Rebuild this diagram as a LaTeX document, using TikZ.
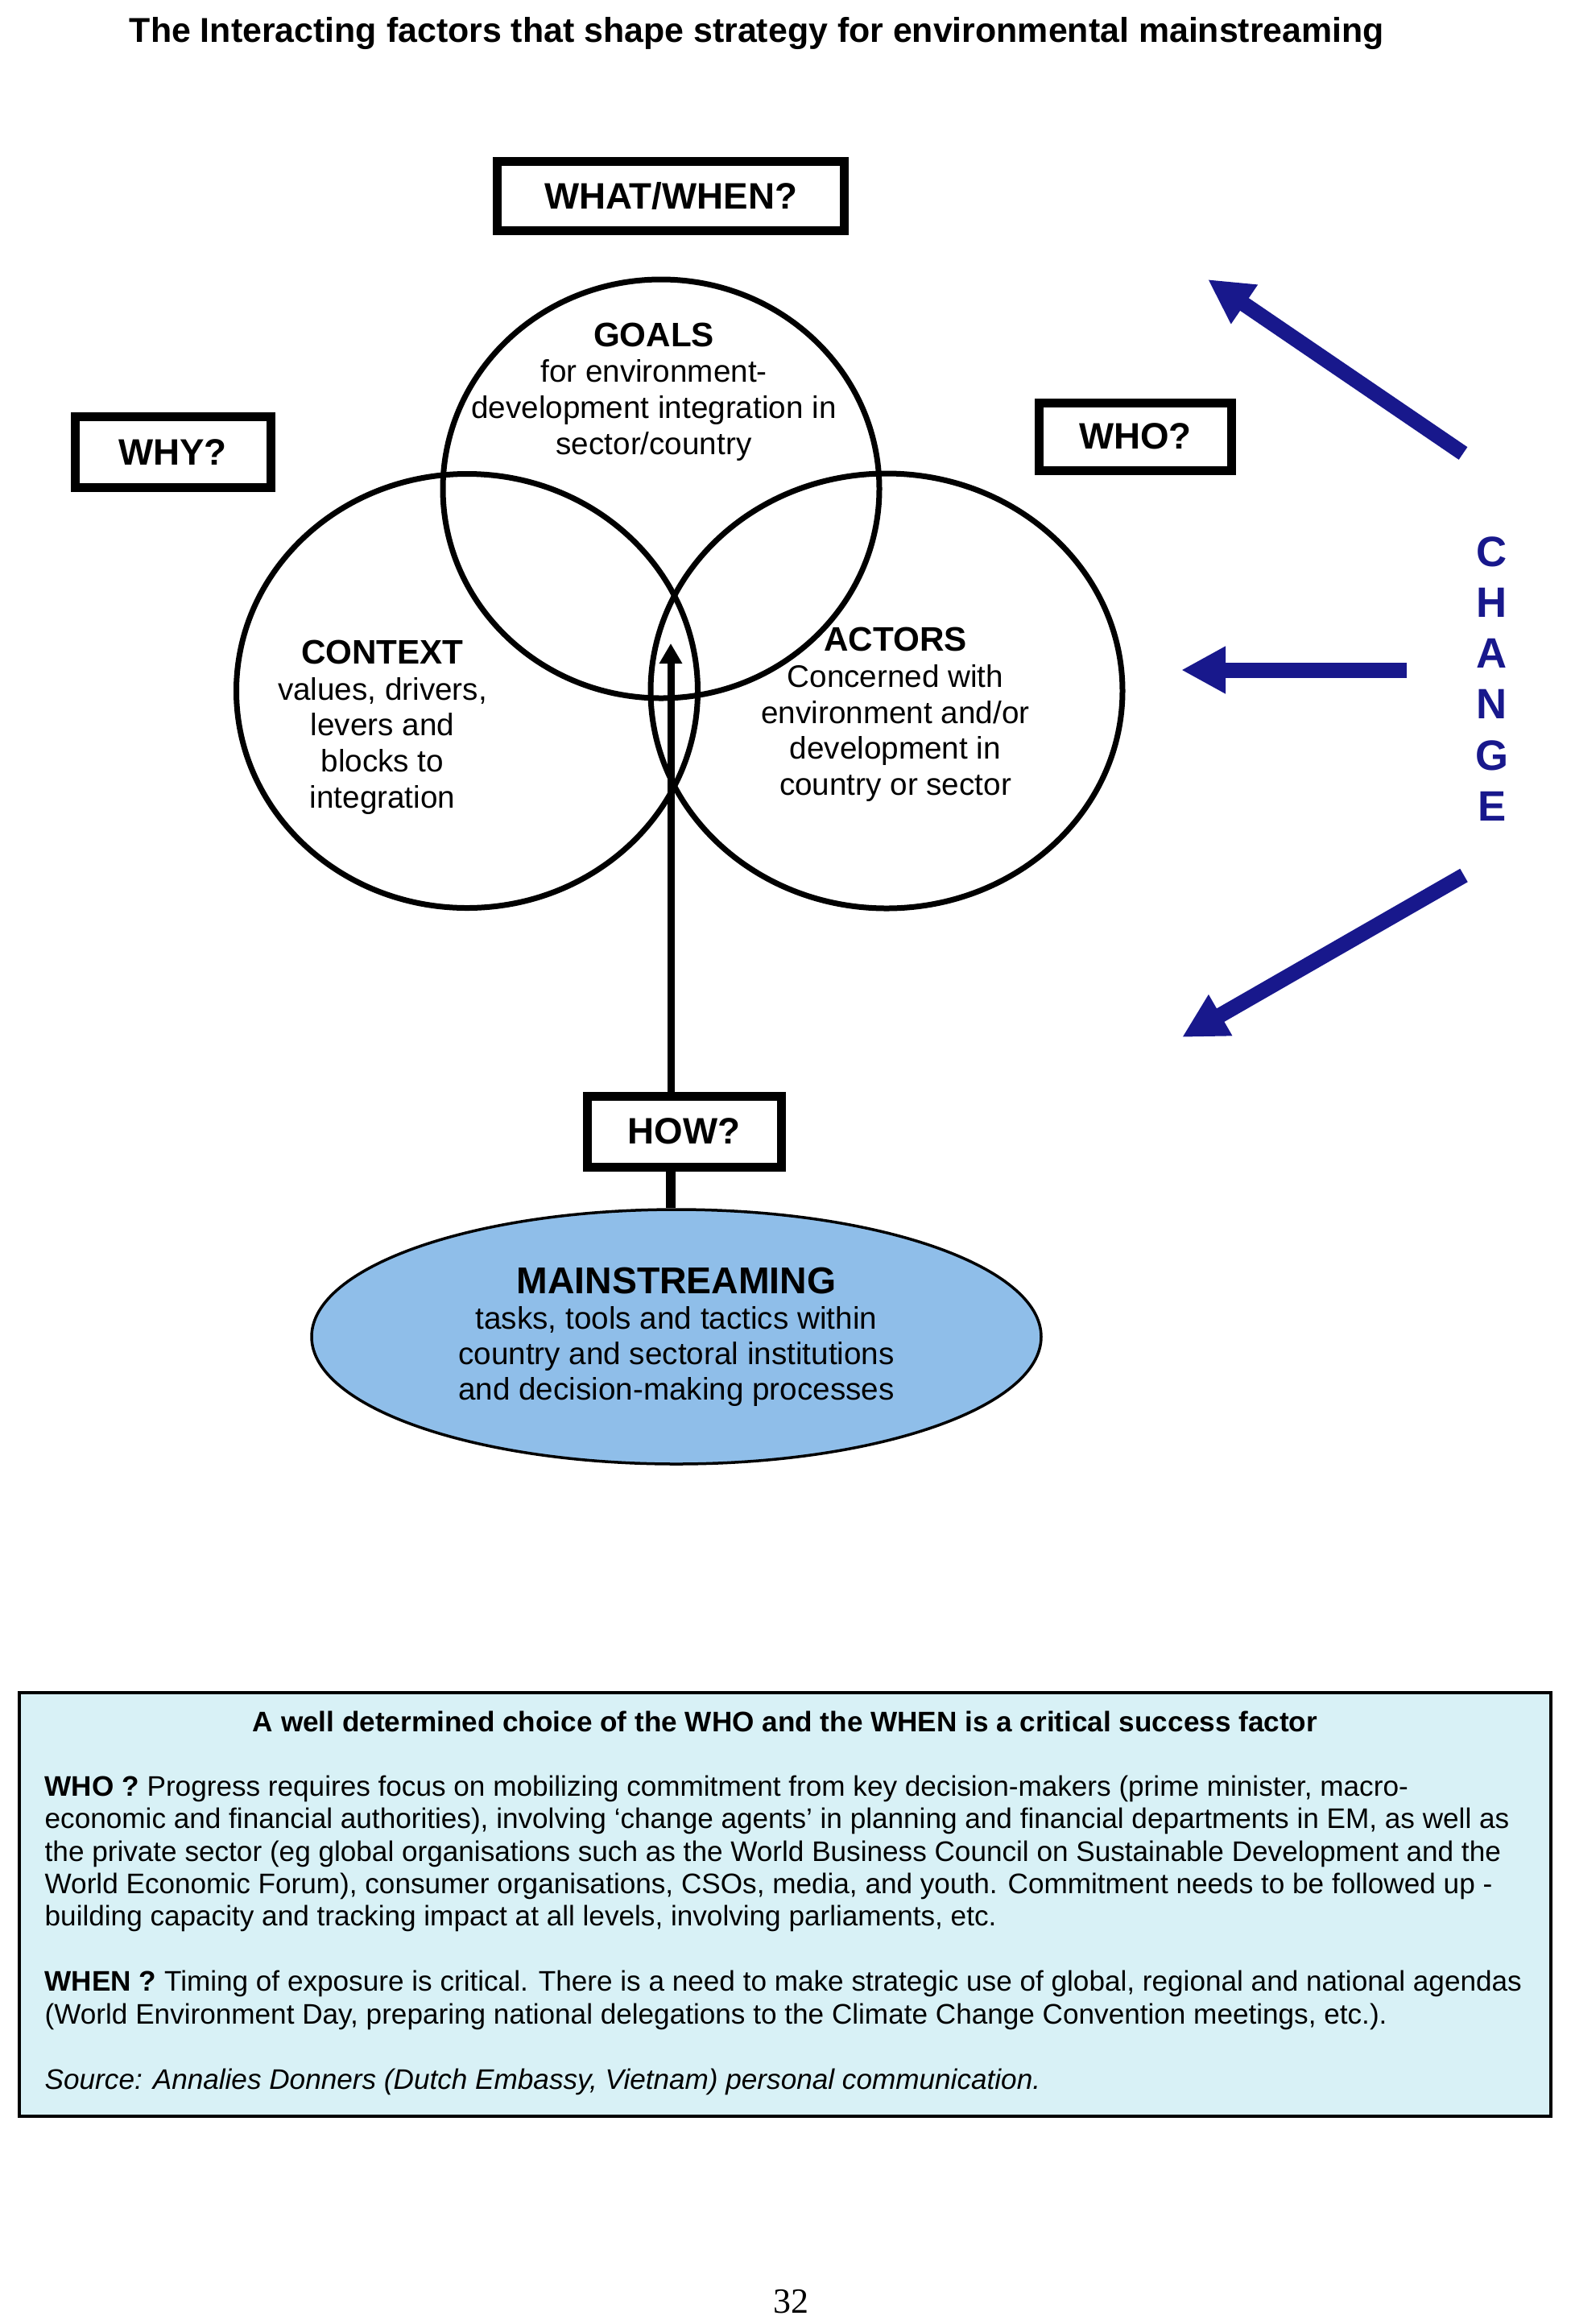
\documentclass[tikz,border=0pt]{standalone}
\usepackage{fontspec}
\setmainfont{Liberation Sans}
\newfontfamily\pagenumfont{Liberation Serif}
\usepackage{tikz}
\usetikzlibrary{positioning}
\usetikzlibrary{shapes.geometric,arrows.meta}
\definecolor{mainBlue}{RGB}{143,190,233}
\definecolor{noteCyan}{RGB}{216,241,246}
\definecolor{changeBlue}{RGB}{24,24,140}
\tikzset{
    question/.style={draw, line width=1.1mm, inner sep=0pt,
        font=\fontsize{13}{13}\selectfont\bfseries},
    venn/.style={ellipse, draw, line width=0.7mm, inner sep=0pt},
    vennText/.style={align=center, anchor=base, inner sep=0pt,
        font=\fontsize{11}{12.7}\selectfont},
    changeArrow/.style={changeBlue, line width=1.9mm,
        -{Triangle[length=5.5mm,width=5.5mm]}},
    changeLetter/.style={anchor=base, inner sep=0pt, text=changeBlue,
        font=\fontsize{15}{15}\selectfont\bfseries},
    noteBox/.style={draw, fill=noteCyan, line width=0.35mm, inner sep=0pt}
}

\begin{document}
\begin{tikzpicture}
	\useasboundingbox (0,0) rectangle (19.50,-28.86);
	\node[anchor=base, font=\fontsize{12.2}{14}\selectfont\bfseries] (title) at (9.40,-0.52)
		{The Interacting factors that shape strategy for environmental mainstreaming};
	% the three circles (text nodes sit on their last baseline)
	\node[venn, minimum width=5.42cm, minimum height=5.20cm] (goals) at (8.21,-6.07) {};
	\node[venn, minimum width=5.73cm, minimum height=5.39cm] (context) at (5.80,-8.58) {};
	\node[venn, minimum width=5.86cm, minimum height=5.40cm] (actors) at (11.01,-8.58) {};
	\node[vennText] (goalsText) at (8.12,-5.64)
		{{\fontsize{12}{12.7}\selectfont\bfseries GOALS}\\for environment-\\development integration in\\sector/country};
	\node[vennText] (contextText) at (4.75,-10.03)
		{{\fontsize{12}{12.7}\selectfont\bfseries CONTEXT}\\values, drivers,\\levers and\\blocks to\\integration};
	\node[vennText] (actorsText) at (11.12,-9.875)
		{{\fontsize{12}{12.7}\selectfont\bfseries ACTORS}\\Concerned with\\environment and/or\\development in\\country or sector};
	% question boxes
	\node[question, minimum width=4.31cm, minimum height=0.86cm] (whatWhen) at (8.33,-2.435) {WHAT/WHEN?};
	\node[question, minimum width=2.43cm, minimum height=0.88cm] (why) at (2.145,-5.615) {WHY?};
	\node[question, minimum width=2.39cm, minimum height=0.84cm] (who) at (14.10,-5.42) {WHO?};
	\node[question, minimum width=2.41cm, minimum height=0.88cm] (how) at (8.495,-14.05) {HOW?};
	% mainstreaming ellipse
	\node[ellipse, draw, fill=mainBlue, line width=0.35mm, minimum width=9.06cm, minimum height=3.16cm] (mainstream) at (8.40,-16.60) {};
	\node[vennText, font=\fontsize{11}{12.5}\selectfont] (mainText) at (8.40,-17.38)
		{{\fontsize{13.2}{12.5}\selectfont\bfseries MAINSTREAMING}\\tasks, tools and tactics within\\country and sectoral institutions\\and decision-making processes};
	\coordinate (stemTip) at (8.33,-7.99);
	\draw[line width=0.9mm, -{Triangle[length=2.5mm,width=2.7mm]}] (how.north -| stemTip) -- (stemTip);
	\draw[line width=1.2mm] (how.south -| stemTip) -- (mainstream.north -| stemTip);
	% change
	\foreach \ch [count=\i] in {C,H,A,N,G,E}
		\node[changeLetter] (change\i) at (18.53,-6.397-0.633*\i) {\ch};
	\coordinate (upTail) at (18.17,-5.63);
	\coordinate (upTip) at (15.00,-3.47);
	\coordinate (midTail) at (17.47,-8.32);
	\coordinate (midTip) at (14.67,-8.32);
	\coordinate (lowTail) at (18.18,-10.87);
	\coordinate (lowTip) at (14.68,-12.88);
	\draw[changeArrow] (upTail) -- (upTip);
	\draw[changeArrow] (midTail) -- (midTip);
	\draw[changeArrow] (lowTail) -- (lowTip);
	% note box
	\node[noteBox, minimum width=19.02cm, minimum height=5.26cm] (note) at (9.75,-23.65) {};
	\node[anchor=base, inner sep=0pt, font=\fontsize{10}{11.5}\selectfont\bfseries] (noteHead) at (9.75,-21.50)
		{A well determined choice of the WHO and the WHEN is a critical success factor};
	\node[anchor=base west, align=left, inner sep=0pt, font=\fontsize{10}{11.5}\selectfont] (noteBody) at (0.55,-25.94)
		{\textbf{WHO ?} Progress requires focus on mobilizing commitment from key decision-makers (prime minister, macro-\\
		economic and financial authorities), involving `change agents' in planning and financial departments in EM, as well as\\
		the private sector (eg global organisations such as the World Business Council on Sustainable Development and the\\
		World Economic Forum), consumer organisations, CSOs, media, and youth. Commitment needs to be followed up -\\
		building capacity and tracking impact at all levels, involving parliaments, etc.\\[11.5pt]
		\textbf{WHEN ?} Timing of exposure is critical. There is a need to make strategic use of global, regional and national agendas\\
		(World Environment Day, preparing national delegations to the Climate Change Convention meetings, etc.).\\[11.5pt]
		\textit{Source: Annalies Donners (Dutch Embassy, Vietnam) personal communication.}};
	\node[anchor=base, inner sep=0pt, font=\pagenumfont\fontsize{12.5}{12.5}\selectfont] (pageNum) at (9.82,-28.72) {32};
\end{tikzpicture}
\end{document}
